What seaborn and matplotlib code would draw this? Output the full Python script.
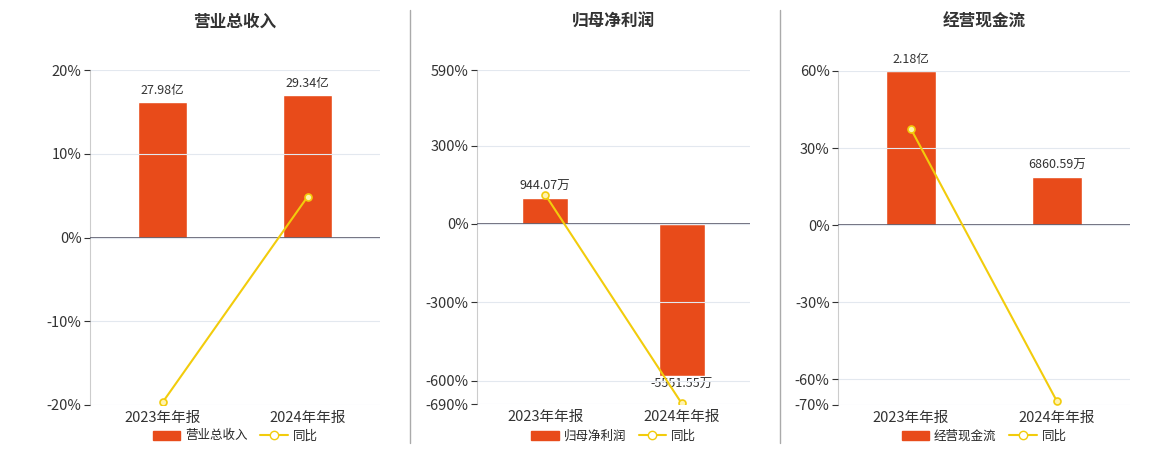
import numpy as np
import pandas as pd
import seaborn as sns
import matplotlib.pyplot as plt
from matplotlib.patches import Patch
from matplotlib.lines import Line2D

sns.set_style('white')
plt.rcParams['font.family'] = ['Noto Sans CJK SC', 'DejaVu Sans']
plt.rcParams['axes.unicode_minus'] = False

categories = ['2023年年报', '2024年年报']
titles = ['营业总收入', '归母净利润', '经营现金流']
bar_values = [[27.98, 29.34], [944.07, -5551.55], [21800, 6860.59]]
bar_labels = [['27.98亿', '29.34亿'], ['944.07万', '-5551.55万'], ['2.18亿', '6860.59万']]
yoy_values = [[-19.7, 4.86], [112, -688], [37.4, -68.6]]
pct_ticks = [[-20, -10, 0, 10, 20], [-690, -600, -300, 0, 300, 590], [-70, -60, -30, 0, 30, 60]]
bar_lims = [(-34.5, 34.5), (-6574, 5624), (-25480, 21800)]

RED = '#E84B1A'
YEL = '#F2CC0C'

fig = plt.figure(figsize=(11.6, 4.5), dpi=100)
boxes = [(90, 70, 380, 405), (477, 70, 750, 404), (838, 71, 1130, 405)]

for i in range(3):
    x0, y0, x1, y1 = boxes[i]
    ax = fig.add_axes([x0 / 1160, 1 - y1 / 450, (x1 - x0) / 1160, (y1 - y0) / 450])
    df = pd.DataFrame({'cat': categories, 'val': bar_values[i]})
    sns.barplot(data=df, x='cat', y='val', color=RED, width=0.34, ax=ax, saturation=1)
    ax.set_xlim(-0.5, 1.5)
    ax.set_ylim(*bar_lims[i])
    ax.set_yticks([])
    ax.set_xlabel('')
    ax.set_ylabel('')
    ax.axhline(0, color='#555566', lw=1.2, zorder=3)
    for j, v in enumerate(bar_values[i]):
        span = bar_lims[i][1] - bar_lims[i][0]
        if v >= 0:
            ax.text(j, v + span * 0.015, bar_labels[i][j], ha='center', va='bottom', fontsize=9, color='#333333')
        else:
            ax.text(j, v - span * 0.005, bar_labels[i][j], ha='center', va='top', fontsize=9, color='#333333')
    ax.tick_params(axis='x', labelsize=10.5, colors='#333333', length=0, pad=4)
    for s in ['top', 'right', 'bottom']:
        ax.spines[s].set_visible(False)
    ax.spines['left'].set_color('#cccccc')

    axr = ax.twinx()
    ticks = pct_ticks[i]
    axr.set_ylim(ticks[0], ticks[-1])
    axr.yaxis.tick_left()
    axr.set_yticks(ticks)
    axr.set_yticklabels([f'{t}%' for t in ticks])
    axr.tick_params(axis='y', labelsize=10.5, colors='#333333', length=4, pad=2)
    for t in ticks:
        axr.axhline(t, color='#e3e8ef', lw=0.8, zorder=0)
    sns.lineplot(x=[0, 1], y=yoy_values[i], ax=axr, color=YEL, lw=1.5, marker='o', markersize=5,
                 markerfacecolor='#fff3b0', markeredgecolor=YEL, markeredgewidth=1.2)
    for s in ['top', 'right', 'bottom', 'left']:
        axr.spines[s].set_visible(False)
    ax.set_zorder(axr.get_zorder() - 1)
    ax.patch.set_visible(False)

    cx = (x0 + x1) / 2 / 1160
    fig.text(cx, 1 - 22 / 450, titles[i], ha='center', va='center', fontsize=12, fontweight='bold', color='#333333')
    handles = [Patch(facecolor=RED, edgecolor=RED),
               Line2D([0], [0], color=YEL, marker='o', markerfacecolor='white', markeredgecolor=YEL, lw=1.5)]
    fig.legend(handles, [titles[i], '同比'], loc='center', bbox_to_anchor=(cx, 1 - 436 / 450), ncol=2,
               frameon=False, fontsize=9, handlelength=2.2, columnspacing=1.0, handletextpad=0.4)

for xd in [410, 780]:
    fig.add_artist(Line2D([xd / 1160, xd / 1160], [1 - 443 / 450, 1 - 10 / 450], color='#aaaaaa', lw=1))

fig.savefig('out.png', dpi=100)
